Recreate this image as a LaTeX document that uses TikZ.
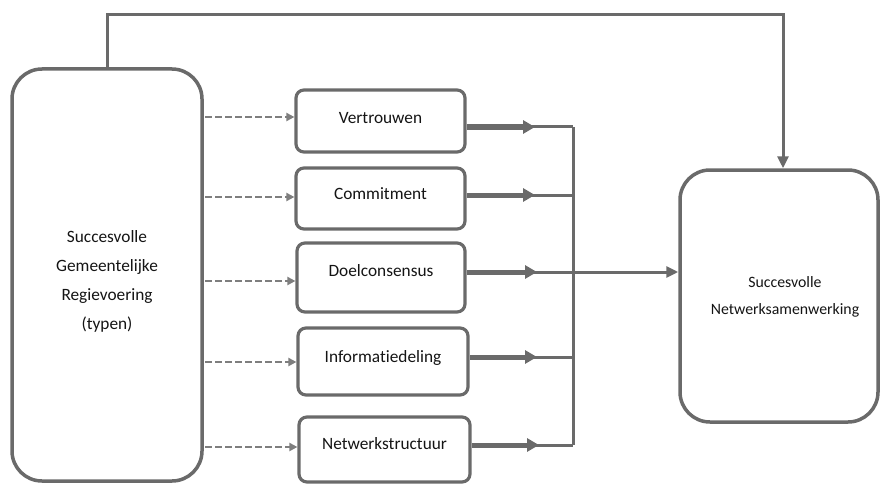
\documentclass[tikz,border=0pt]{standalone}
\usepackage{fontspec}
\setmainfont{Carlito}[Ligatures=NoCommon]
\usetikzlibrary{arrows.meta}
\definecolor{ln}{HTML}{6A6A6A}
\definecolor{dl}{HTML}{7E7E7E}
\begin{document}
\begin{tikzpicture}[x=1pt,y=-1pt,
  bigbox/.style={draw=ln,line width=3.5pt,rounded corners=30pt,inner sep=0pt},
  smallbox/.style={draw=ln,line width=3.2pt,rounded corners=8pt,inner sep=0pt},
  lbl/.style={font=\fontsize{17.3}{29}\selectfont,text=black!92,align=center,inner sep=0pt},
  rlbl/.style={font=\fontsize{15.8}{27}\selectfont,text=black!92,align=center,inner sep=0pt},
  dasharrow/.style={draw=dl,line width=2.4pt,dash pattern=on 7pt off 3pt,-{Triangle[length=8pt,width=8pt]}},
  thickarrow/.style={draw=ln,line width=5pt,-{Triangle[length=12pt,width=13pt]}},
  thinline/.style={draw=ln,line width=3pt},
  thinarrow/.style={draw=ln,line width=3pt,-{Triangle[length=12pt,width=11pt]}}]
\useasboundingbox (0,0) rectangle (880,484);
% boxes
\node[bigbox,minimum width=190pt,minimum height=412pt] (L) at (107,275) {};
\node[lbl] (Lt) at (107,281) {Succesvolle\\Gemeentelijke\\Regievoering\\(typen)};
\node[bigbox,minimum width=198pt,minimum height=252pt] (R) at (779,296) {};
\node[rlbl] (Rt) at (785,297) {Succesvolle\\Netwerksamenwerking};
\node[smallbox,minimum width=169pt,minimum height=62pt] (V) at (380.5,121) {};
\node[smallbox,minimum width=169pt,minimum height=61pt] (C) at (380.5,198.5) {};
\node[smallbox,minimum width=168pt,minimum height=69pt] (D) at (381,277.5) {};
\node[smallbox,minimum width=170pt,minimum height=67pt] (I) at (383,361.5) {};
\node[smallbox,minimum width=171pt,minimum height=65pt] (N) at (384.5,449.5) {};
\node[lbl] (Vt) at (380.5,118) {Vertrouwen};
\node[lbl] (Ct) at (380.5,194) {Commitment};
\node[lbl] (Dt) at (381,271) {Doelconsensus};
\node[lbl] (It) at (383,358) {Informatiedeling};
\node[lbl] (Nt) at (384.5,444) {Netwerkstructuur};
% junction coordinates
\coordinate (b1) at (573,127);
\coordinate (b2) at (573,195);
\coordinate (b3) at (573,272);
\coordinate (b4) at (573,357);
\coordinate (b5) at (573,445);
\coordinate (h1) at (535,127);
\coordinate (h2) at (535,195);
\coordinate (h3) at (537,272);
\coordinate (h4) at (537,357);
\coordinate (h5) at (539,445);
% thin lines to bar
\draw[thinline] (V.east |- b1) -- (b1);
\draw[thinline] (C.east |- b2) -- (b2);
\draw[thinline] (I.east |- b4) -- (b4);
\draw[thinline] (N.east |- b5) -- (b5);
\draw[thinline] (b1) -- (b5);
\draw[thinarrow] (D.east |- b3) -- (R.west |- b3);
% thick arrows
\draw[thickarrow] (V.east |- b1) -- (h1);
\draw[thickarrow] (C.east |- b2) -- (h2);
\draw[thickarrow] (D.east |- b3) -- (h3);
\draw[thickarrow] (I.east |- b4) -- (h4);
\draw[thickarrow] (N.east |- b5) -- (h5);
% dashed arrows
\draw[dasharrow] (205,117) -- (V.west |- 0,117);
\draw[dasharrow] (205,197) -- (C.west |- 0,197);
\draw[dasharrow] (205,281) -- (D.west |- 0,281);
\draw[dasharrow] (205,362) -- (I.west |- 0,362);
\draw[dasharrow] (205,447) -- (N.west |- 0,447);
% top connector
\coordinate (t1) at (107,15);
\coordinate (t2) at (783,15);
\draw[thinarrow] (L.north) -- (t1) -- (t2) -- (R.north -| t2);
\end{tikzpicture}
\end{document}
